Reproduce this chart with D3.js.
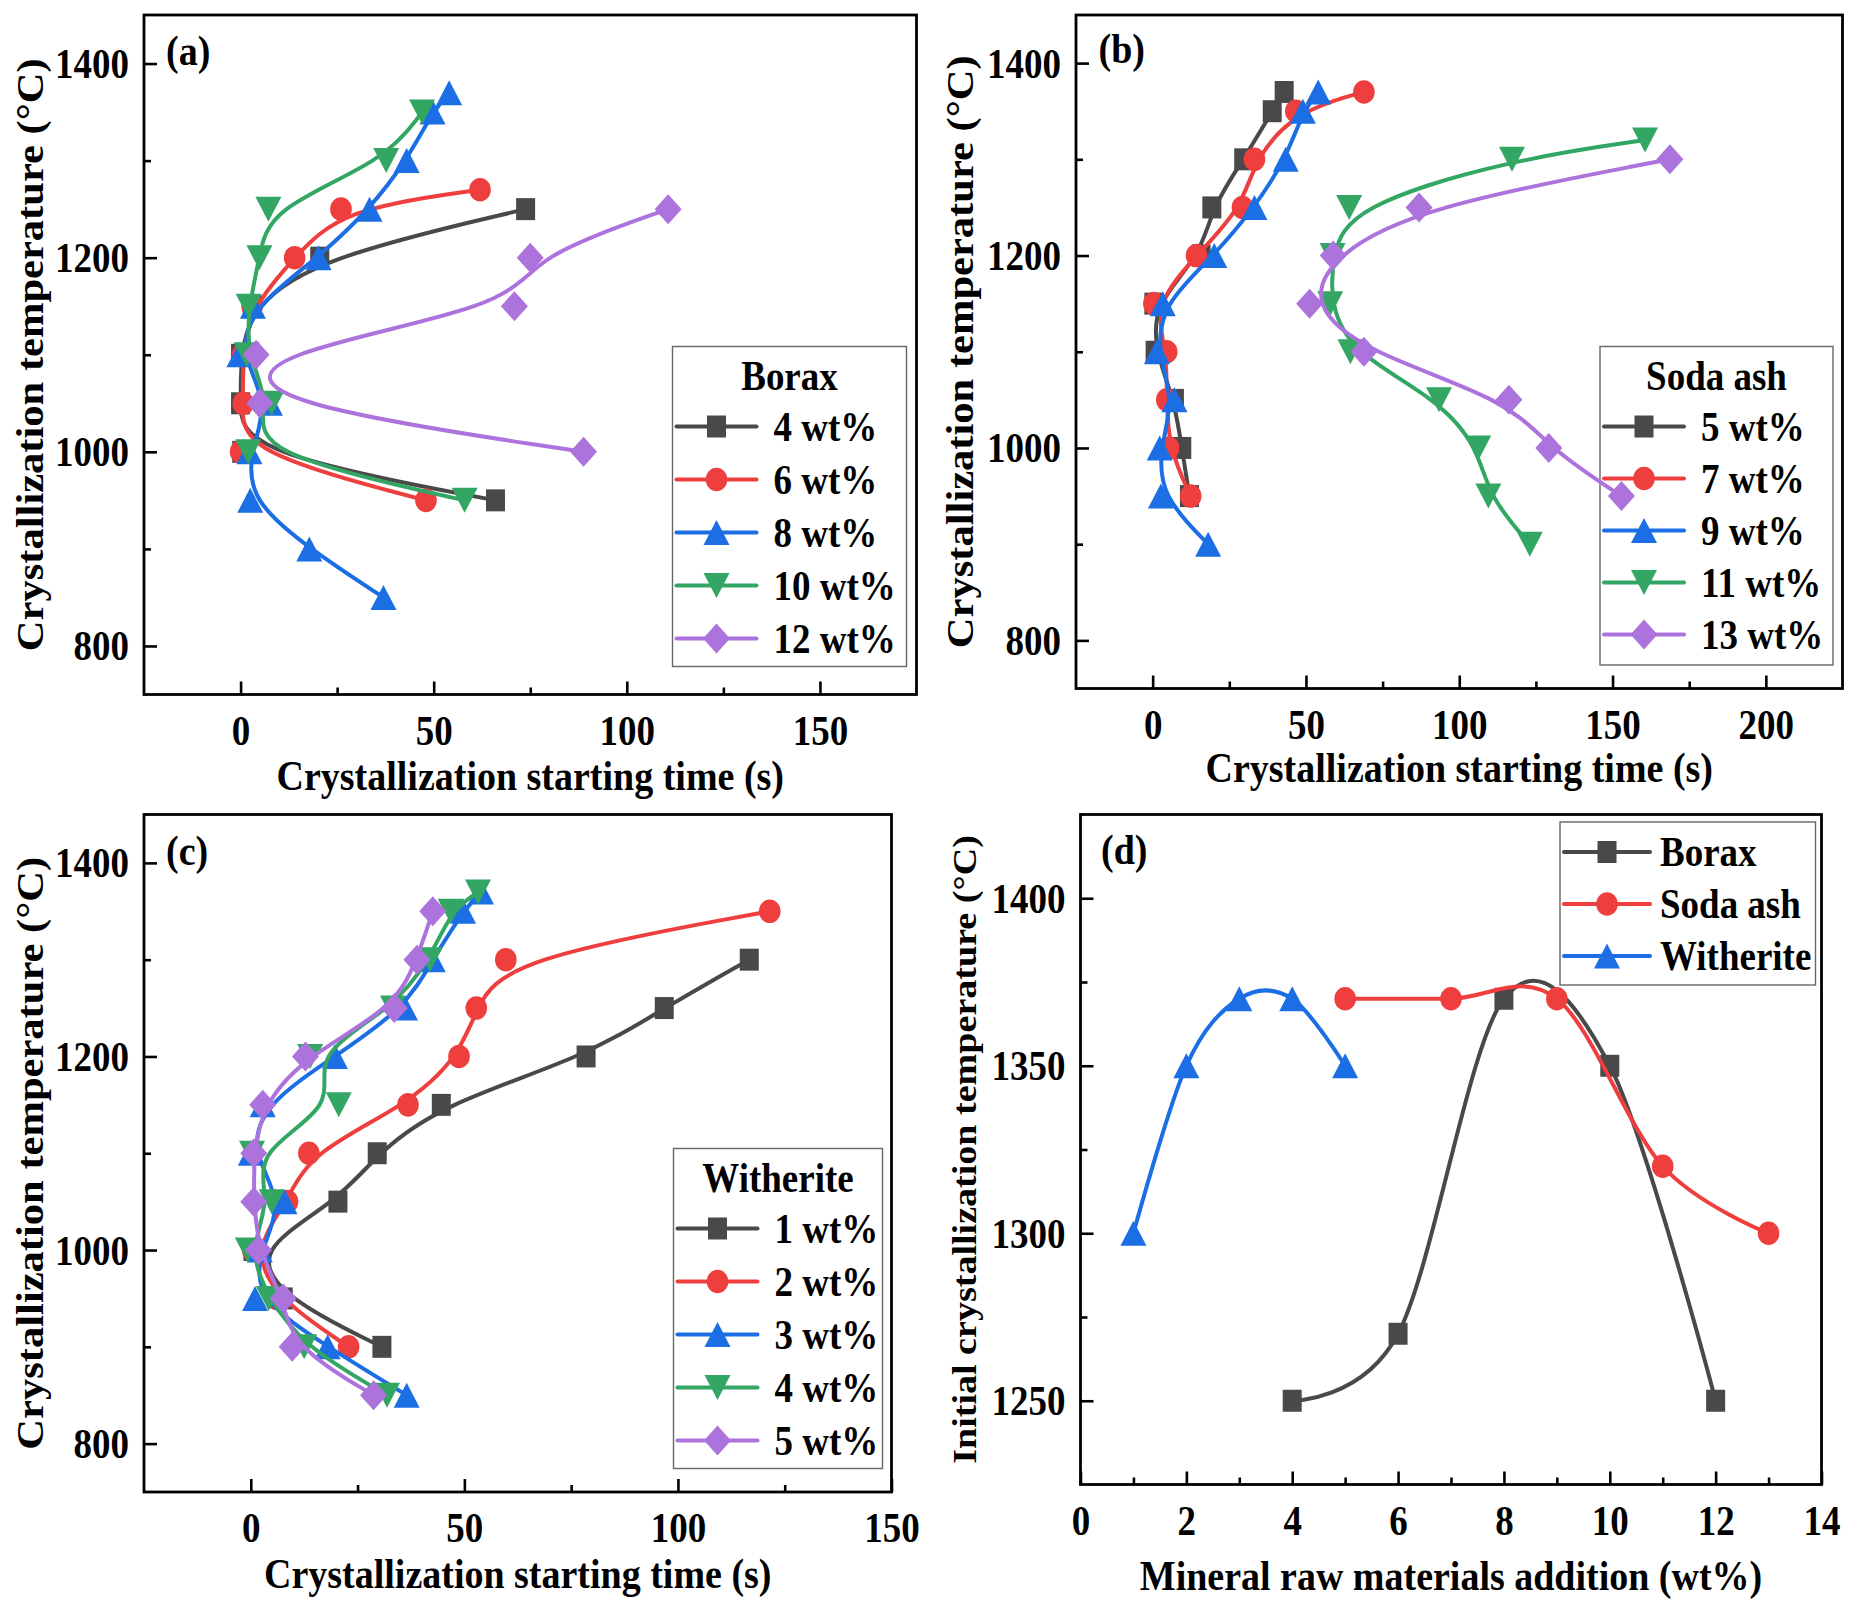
<!DOCTYPE html>
<html>
<head>
<meta charset="utf-8">
<script src="https://cdnjs.cloudflare.com/ajax/libs/d3/7.8.5/d3.min.js"></script>
<style>
    body { margin: 0; background: #fff; }
</style>
</head>
<body>
<svg id="canvas" width="1857" height="1614"></svg>
<script>
"use strict";

// ---- data ----

// (a) Borax: crystallization temperature (C) vs starting time (s)
var borax4Temp = [950, 1000, 1050, 1100, 1150, 1200, 1250];
var borax4Time = [66, 0.3, 0, 0, 3, 20.5, 73.8];
var borax6Temp = [950, 1000, 1050, 1100, 1150, 1200, 1250, 1270];
var borax6Time = [48, 0, 0.7, 0.5, 3, 14, 26, 62];
var borax8Temp = [850, 900, 950, 1000, 1050, 1100, 1150, 1200, 1250, 1300, 1350, 1370];
var borax8Time = [37, 17.8, 2.5, 2.3, 7.6, -0.3, 3.2, 20.2, 33.4, 43, 49.7, 54];
var borax10Temp = [950, 1000, 1050, 1100, 1150, 1200, 1250, 1300, 1350];
var borax10Time = [58, 2, 8, 1.6, 2.1, 4.9, 7.2, 37.7, 47];
var borax12Temp = [1000, 1050, 1100, 1150, 1200, 1250];
var borax12Time = [88.8, 5, 4, 70.9, 75, 110.7];
var boraxLabels = ['4 wt%', '6 wt%', '8 wt%', '10 wt%', '12 wt%'];

// (b) Soda ash
var soda5Temp = [950, 1000, 1050, 1100, 1150, 1200, 1250, 1300, 1350, 1370];
var soda5Time = [12, 9.5, 7.1, 0.8, 0.4, 15.8, 19.3, 29.7, 39, 42.9];
var soda7Temp = [950, 1000, 1050, 1100, 1150, 1200, 1250, 1300, 1350, 1370];
var soda7Time = [12.4, 5.2, 4.6, 4.6, 0.4, 14.3, 29.3, 33.2, 46.7, 68.9];
var soda9Temp = [900, 950, 1000, 1050, 1100, 1150, 1200, 1250, 1300, 1350, 1370];
var soda9Time = [18.1, 2.7, 2.3, 7.1, 1.4, 3.3, 20.1, 33.2, 43.4, 49, 54];
var soda11Temp = [900, 950, 1000, 1050, 1100, 1150, 1200, 1250, 1300, 1320];
var soda11Time = [123, 109.5, 106.2, 93.4, 64.5, 57.9, 58.7, 64.1, 117.2, 160.6];
var soda13Temp = [950, 1000, 1050, 1100, 1150, 1200, 1250, 1300];
var soda13Time = [152.9, 129.2, 116.2, 68.9, 51.2, 58.9, 86.9, 168.7];
var sodaLabels = ['5 wt%', '7 wt%', '9 wt%', '11 wt%', '13 wt%'];

// (c) Witherite
var wither1Temp = [900, 950, 1000, 1050, 1100, 1150, 1200, 1250, 1300];
var wither1Time = [30.7, 7.6, 0.5, 20.4, 29.6, 44.6, 78.5, 96.8, 116.7];
var wither2Temp = [900, 950, 1000, 1050, 1100, 1150, 1200, 1250, 1300, 1350];
var wither2Time = [22.9, 6, 0.4, 8.6, 13.6, 36.8, 48.75, 52.8, 59.7, 121.5];
var wither3Temp = [850, 900, 950, 1000, 1050, 1100, 1150, 1200, 1250, 1300, 1350, 1370];
var wither3Time = [36.5, 18, 1, 2.1, 7.9, 0, 2.8, 19.7, 36.1, 42.6, 49.7, 53.9];
var wither4Temp = [850, 900, 950, 1000, 1050, 1100, 1150, 1200, 1250, 1300, 1350, 1370];
var wither4Time = [31.9, 12.5, 4.2, -0.7, 4.9, 0.3, 20.6, 13.9, 33.3, 41.9, 46.8, 53.2];
var wither5Temp = [850, 900, 950, 1000, 1050, 1100, 1150, 1200, 1250, 1300, 1350];
var wither5Time = [28.75, 9.7, 7.6, 1.8, 0.7, 0.7, 2.8, 12.8, 33.6, 38.9, 42.6];
var witherLabels = ['1 wt%', '2 wt%', '3 wt%', '4 wt%', '5 wt%'];

// (d) initial crystallization temperature vs addition
var boraxAdd = [4, 6, 8, 10, 12];
var boraxInit = [1250, 1270, 1370, 1350, 1250];
var sodaAdd = [5, 7, 9, 11, 13];
var sodaInit = [1370, 1370, 1370, 1320, 1300];
var witherAdd = [1, 2, 3, 4, 5];
var witherInit = [1300, 1350, 1370, 1370, 1350];
var mineralLabels = ['Borax', 'Soda ash', 'Witherite'];

var timeTicksA = [0, 50, 100, 150];
var timeTicksB = [0, 50, 100, 150, 200];
var tempTicks = [800, 1000, 1200, 1400];
var addTicks = [0, 2, 4, 6, 8, 10, 12, 14];
var initTicks = [1250, 1300, 1350, 1400];

// ---- style ----
var FONT = "'Liberation Serif', 'Times New Roman', serif";
var STRETCH = 1.12;
var COLORS = ['#494949', '#ef3e3e', '#1b6ee3', '#33a663', '#ad73dd'];
var SHAPES = ['square', 'circle', 'triUp', 'triDown', 'diamond'];

var svg = d3.select('#canvas');

function zipSeries(times, temps) {
    return times.map(function(t, i) { return [t, temps[i]]; });
}

function markerPath(shape) {
    switch (shape) {
        case 'square': return 'M-9.5,-11H9.5V11H-9.5Z';
        case 'circle': return 'M-10.8,0A10.8,11.8 0 1,0 10.8,0A10.8,11.8 0 1,0 -10.8,0Z';
        case 'triUp': return 'M0,-12.5L13,12.5L-13,12.5Z';
        case 'triDown': return 'M-13,-12.5L13,-12.5L0,12.5Z';
        default: return 'M0,-15L13.5,0L0,15L-13.5,0Z';
    }
}

function addText(g, x, y, str, size, anchor, rotated) {
    return g.append('text')
        .attr('transform', 'translate(' + x + ',' + y + ') scale(1,' + STRETCH + ')' + (rotated ? ' rotate(-90)' : ''))
        .attr('text-anchor', anchor)
        .attr('font-family', FONT)
        .attr('font-weight', 'bold')
        .attr('font-size', size)
        .attr('fill', '#000')
        .text(str);
}

function styleAxis(sel) {
    sel.attr('font-family', FONT).attr('font-size', 37).attr('font-weight', 'bold');
    sel.select('.domain').remove();
    sel.selectAll('line').attr('stroke', '#000').attr('stroke-width', 2.6);
}

function drawPanel(p) {
    var g = svg.append('g');
    var x = d3.scaleLinear().domain(p.xDomain).range([p.left, p.right]);
    var y = d3.scaleLinear().domain(p.yDomain).range([p.bottom, p.top]);

    // minor ticks
    g.append('g').attr('transform', 'translate(0,' + p.bottom + ')')
        .call(d3.axisBottom(x).tickValues(p.xMinor).tickSizeInner(-7).tickSizeOuter(0).tickFormat(''))
        .call(styleAxis);
    g.append('g').attr('transform', 'translate(' + p.left + ',0)')
        .call(d3.axisLeft(y).tickValues(p.yMinor).tickSizeInner(-7).tickSizeOuter(0).tickFormat(''))
        .call(styleAxis);

    // major ticks + labels
    var xa = g.append('g').attr('transform', 'translate(0,' + p.bottom + ')')
        .call(d3.axisBottom(x).tickValues(p.xTicks).tickSizeInner(-13).tickSizeOuter(0).tickFormat(d3.format('d')))
        .call(styleAxis);
    xa.selectAll('text').attr('y', null).attr('dy', null).attr('fill', '#000')
        .attr('transform', 'translate(0,50) scale(1,' + STRETCH + ')');

    var ya = g.append('g').attr('transform', 'translate(' + p.left + ',0)')
        .call(d3.axisLeft(y).tickValues(p.yTicks).tickSizeInner(-13).tickSizeOuter(0).tickFormat(d3.format('d')))
        .call(styleAxis);
    ya.selectAll('text').attr('x', null).attr('dy', null).attr('fill', '#000')
        .attr('transform', 'translate(-15,14) scale(1,' + STRETCH + ')');

    // frame
    g.append('rect')
        .attr('x', p.left).attr('y', p.top)
        .attr('width', p.right - p.left).attr('height', p.bottom - p.top)
        .attr('fill', 'none').attr('stroke', '#000').attr('stroke-width', 2.8);

    // legend (drawn under the data, as in the original)
    var L = p.legend;
    g.append('rect')
        .attr('x', L.x).attr('y', L.y).attr('width', L.w).attr('height', L.h)
        .attr('fill', '#fff').attr('stroke', '#666').attr('stroke-width', 1.4);
    if (L.title) {
        addText(g, L.x + L.w / 2, L.y + 43.5, L.title, 37, 'middle', false);
    }
    p.series.forEach(function(s, i) {
        var ly = L.y + L.first + i * L.step;
        g.append('line')
            .attr('x1', L.x + 4).attr('x2', L.x + L.lineEnd)
            .attr('y1', ly).attr('y2', ly)
            .attr('stroke', s.color).attr('stroke-width', 4).attr('stroke-linecap', 'round');
        g.append('path')
            .attr('d', markerPath(s.shape))
            .attr('transform', 'translate(' + (L.x + L.marker) + ',' + ly + ')')
            .attr('fill', s.color);
        addText(g, L.x + L.text, ly + 14, s.label, 37, 'start', false);
    });

    // series
    var line = d3.line()
        .x(function(d) { return x(d[0]); })
        .y(function(d) { return y(d[1]); })
        .curve(p.curve);

    p.series.forEach(function(s, i) {
        var sg = g.append('g');
        sg.append('path')
            .datum(s.points)
            .attr('d', line)
            .attr('fill', 'none')
            .attr('stroke', s.color)
            .attr('stroke-width', 4)
            .attr('stroke-linecap', 'round')
            .attr('stroke-linejoin', 'round');
        sg.selectAll('path.marker')
            .data(s.points)
            .enter().append('path')
            .attr('class', 'marker')
            .attr('d', markerPath(s.shape))
            .attr('transform', function(d) { return 'translate(' + x(d[0]) + ',' + y(d[1]) + ')'; })
            .attr('fill', s.color);
    });

    // labels
    addText(g, p.tag[0], p.tag[1], p.tag[2], 38, 'start', false);
    addText(g, (p.left + p.right) / 2, p.xTitleY, p.xTitle, 38, 'middle', false);
    addText(g, p.yTitleX, (p.top + p.bottom) / 2, p.yTitle, p.yTitleSize || 38, 'middle', true);
}

function buildSeries(pairs, labels) {
    return pairs.map(function(pts, i) {
        return { points: pts, label: labels[i], color: COLORS[i], shape: SHAPES[i] };
    });
}

// (a)
drawPanel({
    left: 144, right: 916.5, top: 15, bottom: 694.5,
    xDomain: [-25, 175], yDomain: [750, 1450],
    xTicks: timeTicksA, xMinor: [25, 75, 125],
    yTicks: tempTicks, yMinor: [900, 1100, 1300],
    curve: d3.curveBasis,
    tag: [166, 65, '(a)'],
    xTitle: 'Crystallization starting time (s)', xTitleY: 790,
    yTitle: 'Crystallization temperature (\u00B0C)', yTitleX: 43,
    legend: { x: 672.5, y: 346.5, w: 234, h: 320, title: 'Borax', first: 80, step: 53, lineEnd: 84, marker: 44, text: 101 },
    series: buildSeries([
        zipSeries(borax4Time, borax4Temp),
        zipSeries(borax6Time, borax6Temp),
        zipSeries(borax8Time, borax8Temp),
        zipSeries(borax10Time, borax10Temp),
        zipSeries(borax12Time, borax12Temp)
    ], boraxLabels)
});

// (b)
drawPanel({
    left: 1076, right: 1842.5, top: 15, bottom: 688.5,
    xDomain: [-25, 225], yDomain: [750, 1450],
    xTicks: timeTicksB, xMinor: [25, 75, 125, 175],
    yTicks: tempTicks, yMinor: [900, 1100, 1300],
    curve: d3.curveBasis,
    tag: [1098.5, 63, '(b)'],
    xTitle: 'Crystallization starting time (s)', xTitleY: 782,
    yTitle: 'Crystallization temperature (\u00B0C)', yTitleX: 973,
    legend: { x: 1600, y: 346.5, w: 233, h: 318.5, title: 'Soda ash', first: 80, step: 52, lineEnd: 84, marker: 44, text: 101 },
    series: buildSeries([
        zipSeries(soda5Time, soda5Temp),
        zipSeries(soda7Time, soda7Temp),
        zipSeries(soda9Time, soda9Temp),
        zipSeries(soda11Time, soda11Temp),
        zipSeries(soda13Time, soda13Temp)
    ], sodaLabels)
});

// (c)
drawPanel({
    left: 144, right: 891.5, top: 814.5, bottom: 1492,
    xDomain: [-25, 150], yDomain: [750, 1450],
    xTicks: timeTicksA, xMinor: [25, 75, 125],
    yTicks: tempTicks, yMinor: [900, 1100, 1300],
    curve: d3.curveBasis,
    tag: [166, 865, '(c)'],
    xTitle: 'Crystallization starting time (s)', xTitleY: 1588,
    yTitle: 'Crystallization temperature (\u00B0C)', yTitleX: 43,
    legend: { x: 673.5, y: 1148.5, w: 209, h: 320, title: 'Witherite', first: 80, step: 53, lineEnd: 84, marker: 44, text: 101 },
    series: buildSeries([
        zipSeries(wither1Time, wither1Temp),
        zipSeries(wither2Time, wither2Temp),
        zipSeries(wither3Time, wither3Temp),
        zipSeries(wither4Time, wither4Temp),
        zipSeries(wither5Time, wither5Temp)
    ], witherLabels)
});

// (d)
drawPanel({
    left: 1080.5, right: 1821.5, top: 814.5, bottom: 1484.5,
    xDomain: [0, 14], yDomain: [1225, 1425],
    xTicks: addTicks, xMinor: [1, 3, 5, 7, 9, 11, 13],
    yTicks: initTicks, yMinor: [1275, 1325, 1375],
    curve: d3.curveCardinal.tension(0),
    tag: [1101, 864, '(d)'],
    xTitle: 'Mineral raw materials addition (wt%)', xTitleY: 1590,
    yTitle: 'Initial crystallization temperature (\u00B0C)', yTitleX: 976, yTitleSize: 34,
    legend: { x: 1560, y: 822, w: 255.5, h: 163, title: null, first: 30, step: 52, lineEnd: 90, marker: 47, text: 100 },
    series: [
        { points: zipSeries(boraxAdd, boraxInit), label: mineralLabels[0], color: COLORS[0], shape: SHAPES[0] },
        { points: zipSeries(sodaAdd, sodaInit), label: mineralLabels[1], color: COLORS[1], shape: SHAPES[1] },
        { points: zipSeries(witherAdd, witherInit), label: mineralLabels[2], color: COLORS[2], shape: SHAPES[2] }
    ]
});
</script>
</body>
</html>
